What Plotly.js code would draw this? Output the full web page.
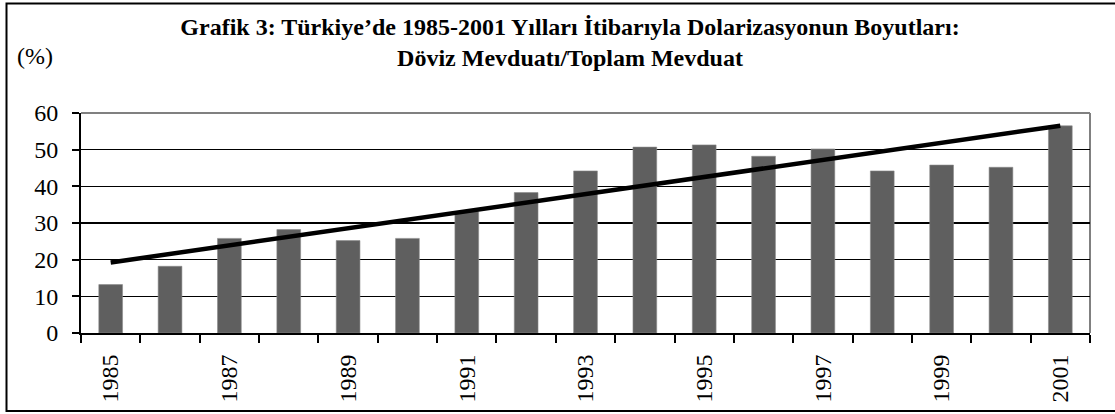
<!DOCTYPE html>
<html>
<head>
<meta charset="utf-8">
<script src="https://cdn.plot.ly/plotly-3.0.1.min.js"></script>
<style>html,body{margin:0;padding:0;background:#fff;}#chart{width:1115px;height:414px;}</style>
</head>
<body>
<div id="chart"></div>
<script>
// Data
const years = ['1985','1986','1987','1988','1989','1990','1991','1992','1993','1994','1995','1996','1997','1998','1999','2000','2001'];
const depositShare = [13.2, 18.2, 25.8, 28.2, 25.2, 25.8, 33.1, 38.3, 44.2, 50.7, 51.3, 48.2, 50.2, 44.2, 45.8, 45.2, 56.5];
const tickLabels = ['1985','','1987','','1989','','1991','','1993','','1995','','1997','','1999','','2001'];
const titleText = 'Grafik 3: Türkiye’de 1985-2001 Yılları İtibarıyla Dolarizasyonun Boyutları:<br>Döviz Mevduatı/Toplam Mevduat';
const unitLabel = '(%)';

// Linear trend (least squares) computed from the data
const n = depositShare.length;
const idx = depositShare.map((_, i) => i);
const mx = idx.reduce((a, b) => a + b, 0) / n;
const my = depositShare.reduce((a, b) => a + b, 0) / n;
let sxy = 0, sxx = 0;
idx.forEach((i) => { sxy += (i - mx) * (depositShare[i] - my); sxx += (i - mx) * (i - mx); });
const slope = sxy / sxx;
const intercept = my - slope * mx;
const trendX = [years[0], years[n - 1]];
const trendY = [intercept, intercept + slope * (n - 1)];

const serif = '"Liberation Serif", "Times New Roman", serif';

const traces = [
  {
    type: 'bar', x: years, y: depositShare,
    marker: {color: '#5f5f5f', line: {color: '#8a8a8a', width: 0.6}},
    hoverinfo: 'x+y', showlegend: false
  },
  {
    type: 'scatter', mode: 'lines', x: trendX, y: trendY,
    line: {color: '#000000', width: 4.5}, showlegend: false, hoverinfo: 'skip'
  }
];

const L = 81, R = 25, T = 113, B = 81, W = 1115, H = 414;
const pw = W - L - R, ph = H - T - B;
const px = (p) => (p - L) / pw;           // pixel x -> paper x
const py = (p) => (H - B - p) / ph;       // pixel y -> paper y

const layout = {
  width: W, height: H,
  margin: {l: L, r: R, t: T, b: B, pad: 0},
  paper_bgcolor: '#ffffff', plot_bgcolor: '#ffffff',
  font: {family: serif, color: '#000000', size: 23},
  bargap: 0.6,
  title: {
    text: titleText,
    font: {family: serif, size: 24, weight: 'bold', color: '#000000'},
    x: 570 / W, xanchor: 'center', xref: 'container',
    y: 1 - 35 / H, yanchor: 'top', yref: 'container'
  },
  xaxis: {
    type: 'category',
    tickvals: years, ticktext: tickLabels,
    tickson: 'boundaries',
    ticks: 'outside', ticklen: 8, tickwidth: 2, tickcolor: '#000000',
    tickangle: -90, ticklabelstandoff: 10,
    tickfont: {family: serif, size: 24, color: '#000000'},
    showline: true, linecolor: '#000000', linewidth: 2,
    showgrid: false, zeroline: false, fixedrange: true
  },
  yaxis: {
    range: [0, 60], dtick: 10, tick0: 0,
    ticks: 'outside', ticklen: 7, tickwidth: 2, tickcolor: '#000000',
    ticklabelstandoff: 9,
    tickfont: {family: serif, size: 24, color: '#000000'},
    showline: true, linecolor: '#000000', linewidth: 2,
    showgrid: true, gridcolor: '#000000', gridwidth: 1.3,
    zeroline: false, fixedrange: true
  },
  shapes: [
    {type: 'line', xref: 'paper', yref: 'paper', x0: 0, x1: 1, y0: 1, y1: 1,
     line: {color: '#808080', width: 2}, layer: 'above'},
    {type: 'line', xref: 'paper', yref: 'paper', x0: 1, x1: 1, y0: 0, y1: 1,
     line: {color: '#808080', width: 2}, layer: 'below'},
    {type: 'rect', xref: 'paper', yref: 'paper',
     x0: px(6.5), x1: px(1140), y0: py(411), y1: py(3.5),
     line: {color: '#000000', width: 2}, fillcolor: 'rgba(0,0,0,0)', layer: 'above'}
  ],
  annotations: [
    {text: unitLabel, xref: 'paper', yref: 'paper',
     x: px(15), xanchor: 'left', y: py(56), yanchor: 'middle',
     showarrow: false, font: {family: serif, size: 24, color: '#000000'}}
  ]
};

Plotly.newPlot('chart', traces, layout, {displayModeBar: false, staticPlot: true});
</script>
</body>
</html>
